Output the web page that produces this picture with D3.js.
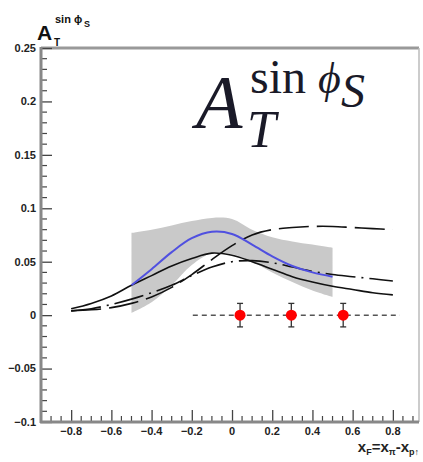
<!DOCTYPE html>
<html>
<head>
<meta charset="utf-8">
<script src="https://cdn.jsdelivr.net/npm/d3@7"></script>
<style>
  body { margin: 0; background: #fff; }
  svg { display: block; }
  .tick-label { font-family: "Liberation Sans", Arial, sans-serif; font-weight: bold; font-size: 11px; fill: #222; }
</style>
</head>
<body>
<div id="chart"></div>
<script>
// x grid used by all theory curves
const curveX = [-0.8, -0.7, -0.6, -0.5, -0.4, -0.3, -0.2, -0.1, 0, 0.1, 0.2, 0.3, 0.4, 0.5, 0.6, 0.7, 0.8];
const solidY = [0.006, 0.011, 0.018, 0.028, 0.037, 0.046, 0.053, 0.058, 0.056, 0.05, 0.043, 0.036, 0.031, 0.027, 0.024, 0.021, 0.019];
const longDashY = [0.004, 0.005, 0.007, 0.011, 0.017, 0.026, 0.038, 0.052, 0.065, 0.075, 0.08, 0.082, 0.083, 0.083, 0.082, 0.081, 0.08];
const dashDotY = [0.004, 0.006, 0.01, 0.015, 0.021, 0.028, 0.037, 0.045, 0.05, 0.051, 0.049, 0.045, 0.041, 0.038, 0.036, 0.034, 0.032];

// blue curve with its grey uncertainty band
const bandX = [-0.5, -0.4, -0.3, -0.2, -0.1, 0, 0.1, 0.2, 0.3, 0.4, 0.5];
const blueY = [0.028, 0.043, 0.059, 0.072, 0.078, 0.076, 0.066, 0.055, 0.046, 0.04, 0.036];
const bandHi = [0.077, 0.08, 0.084, 0.088, 0.091, 0.09, 0.08, 0.073, 0.069, 0.066, 0.063];
const bandLo = [0.002, 0.012, 0.028, 0.047, 0.058, 0.057, 0.05, 0.04, 0.031, 0.023, 0.017];

// projected data points
const pointX = [0.04, 0.295, 0.553];
const pointY = [0, 0, 0];
const pointErr = [0.011, 0.011, 0.011];
const zeroLineX = [-0.195, 0.835];

const xTicks = [-0.8, -0.6, -0.4, -0.2, 0, 0.2, 0.4, 0.6, 0.8];
const yTicks = [-0.1, -0.05, 0, 0.05, 0.1, 0.15, 0.2, 0.25];

const W = 423, H = 462;
const frame = { left: 41, top: 48, right: 419, bottom: 422 };

const svg = d3.select('#chart').append('svg')
    .attr('width', W)
    .attr('height', H);

const x = d3.scaleLinear().domain([-0.95, 0.93]).range([frame.left, frame.right]);
const y = d3.scaleLinear().domain([-0.1, 0.25]).range([frame.bottom, frame.top]);

// band
const band = bandX.map((v, i) => ({ x: v, lo: bandLo[i], hi: bandHi[i] }));
svg.append('path')
    .datum(band)
    .attr('d', d3.area().x(d => x(d.x)).y0(d => y(d.lo)).y1(d => y(d.hi)).curve(d3.curveCatmullRom))
    .style('fill', '#c9c9c9');

function drawCurve(xs, ys, color, width, dash) {
    svg.append('path')
        .datum(xs.map((v, i) => [v, ys[i]]))
        .attr('d', d3.line().x(d => x(d[0])).y(d => y(d[1])).curve(d3.curveCatmullRom))
        .style('fill', 'none')
        .style('stroke', color)
        .style('stroke-width', width)
        .style('stroke-dasharray', dash);
}

drawCurve(curveX, longDashY, '#111', 1.6, '30,8');
drawCurve(curveX, dashDotY, '#111', 1.6, '30,6,2,6');
drawCurve(curveX, solidY, '#111', 1.6, null);
drawCurve(bandX, blueY, '#5050e0', 2, null);

// zero line with data points
svg.append('line')
    .attr('x1', x(zeroLineX[0])).attr('x2', x(zeroLineX[1]))
    .attr('y1', y(0)).attr('y2', y(0))
    .style('stroke', '#555')
    .style('stroke-width', 1.5)
    .style('stroke-dasharray', '5,4');

const pts = pointX.map((v, i) => ({ x: v, y: pointY[i], e: pointErr[i] }));
const pg = svg.selectAll('.pt').data(pts).enter().append('g').attr('class', 'pt');
pg.append('line')
    .attr('x1', d => x(d.x)).attr('x2', d => x(d.x))
    .attr('y1', d => y(d.y - d.e)).attr('y2', d => y(d.y + d.e))
    .style('stroke', '#333').style('stroke-width', 1.3);
[-1, 1].forEach(s => {
    pg.append('line')
        .attr('x1', d => x(d.x) - 3).attr('x2', d => x(d.x) + 3)
        .attr('y1', d => y(d.y + s * d.e)).attr('y2', d => y(d.y + s * d.e))
        .style('stroke', '#333').style('stroke-width', 1.3);
});
pg.append('circle')
    .attr('cx', d => x(d.x)).attr('cy', d => y(d.y))
    .attr('r', 5.5)
    .style('fill', '#f00');

// frame
svg.append('line').attr('x1', frame.left).attr('x2', frame.right).attr('y1', frame.top).attr('y2', frame.top)
    .style('stroke', '#999').style('stroke-width', 3);
svg.append('line').attr('x1', frame.right).attr('x2', frame.right).attr('y1', frame.top).attr('y2', frame.bottom)
    .style('stroke', '#bbb').style('stroke-width', 1.5);

// y axis
const yAxis = d3.axisRight(y).tickValues(yTicks).tickSize(11).tickFormat('');
const ya = svg.append('g').attr('transform', `translate(${frame.left},0)`).call(yAxis);
ya.select('.domain').remove();
ya.selectAll('line').style('stroke', '#444').style('stroke-width', 1.3);
const yMinor = d3.range(-0.1, 0.2501, 0.01).filter(v => Math.abs(Math.round(v * 100) % 5) !== 0);
svg.selectAll('.yminor').data(yMinor).enter().append('line')
    .attr('x1', frame.left).attr('x2', frame.left + 6)
    .attr('y1', d => y(d)).attr('y2', d => y(d))
    .style('stroke', '#444').style('stroke-width', 1.2);
svg.selectAll('.ylab').data(yTicks).enter().append('text')
    .attr('class', 'tick-label')
    .attr('x', frame.left - 5)
    .attr('y', d => y(d))
    .attr('dy', '0.35em')
    .attr('text-anchor', 'end')
    .text(d => d3.format('~g')(d));
svg.append('line').attr('x1', frame.left).attr('x2', frame.left).attr('y1', frame.top - 1).attr('y2', frame.bottom + 1)
    .style('stroke', '#888').style('stroke-width', 3);

// x axis
const xAxis = d3.axisTop(x).tickValues(xTicks).tickSize(12).tickFormat('');
const xa = svg.append('g').attr('transform', `translate(0,${frame.bottom})`).call(xAxis);
xa.select('.domain').remove();
xa.selectAll('line').style('stroke', '#444').style('stroke-width', 1.3);
const xMinor = d3.range(-0.9, 0.93, 0.05).filter(v => Math.abs(Math.round(v * 100) % 20) !== 0);
svg.selectAll('.xminor').data(xMinor).enter().append('line')
    .attr('x1', d => x(d)).attr('x2', d => x(d))
    .attr('y1', frame.bottom).attr('y2', frame.bottom - 6)
    .style('stroke', '#444').style('stroke-width', 1.2);
svg.selectAll('.xlab').data(xTicks).enter().append('text')
    .attr('class', 'tick-label')
    .attr('x', d => x(d))
    .attr('y', frame.bottom + 13)
    .attr('text-anchor', 'middle')
    .text(d => d3.format('~g')(d));
svg.append('line').attr('x1', frame.left - 1).attr('x2', frame.right).attr('y1', frame.bottom).attr('y2', frame.bottom)
    .style('stroke', '#888').style('stroke-width', 3);

// x title
const xt = svg.append('text')
    .attr('x', frame.right)
    .attr('y', 452)
    .attr('text-anchor', 'end')
    .style('font-family', '"Liberation Sans", Arial, sans-serif')
    .style('font-weight', 'bold')
    .style('font-size', '15px')
    .style('fill', '#222');
xt.append('tspan').text('x');
xt.append('tspan').attr('dy', 3).style('font-size', '9px').text('F');
xt.append('tspan').attr('dy', -3).text('=x');
xt.append('tspan').attr('dy', 3).style('font-size', '9px').text('π');
xt.append('tspan').attr('dy', -3).text('-x');
xt.append('tspan').attr('dy', 3).style('font-size', '9px').text('p↑');

// y title (top-left)
const yt = svg.append('g').style('font-family', '"Liberation Sans", Arial, sans-serif')
    .style('font-weight', 'bold').style('fill', '#111');
yt.append('text').attr('x', 37).attr('y', 40).style('font-size', '21px').text('A');
yt.append('text').attr('x', 54).attr('y', 46).style('font-size', '10px').text('T');
yt.append('text').attr('x', 55).attr('y', 23).style('font-size', '11px').text('sin ϕ');
yt.append('text').attr('x', 84).attr('y', 27).style('font-size', '9px').text('S');

// large LaTeX-style label
const big = svg.append('g').style('font-family', '"Liberation Serif", "DejaVu Serif", serif').style('fill', '#1a1a28');
big.append('text').attr('x', 196).attr('y', 128).style('font-size', '76px').style('font-style', 'italic').text('A');
big.append('text').attr('x', 247).attr('y', 147).style('font-size', '52px').style('font-style', 'italic').text('T');
big.append('text').attr('x', 250).attr('y', 93).style('font-size', '48px').text('sin');
big.append('text').attr('x', 318).attr('y', 93).style('font-size', '44px').style('font-style', 'italic').text('ϕ');
big.append('text').attr('x', 341).attr('y', 107).style('font-size', '48px').style('font-style', 'italic').text('S');
</script>
</body>
</html>
